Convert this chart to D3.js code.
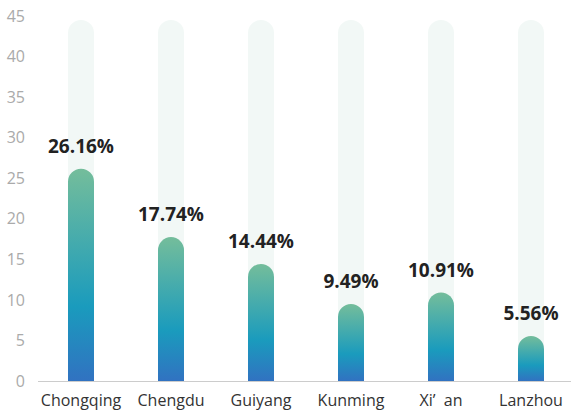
<!DOCTYPE html>
<html><head><meta charset="utf-8">
<script src="https://cdn.jsdelivr.net/npm/d3@7"></script>
<style>body{margin:0;background:#fff;}svg{display:block;}</style>
</head><body>
<svg id="c" width="571" height="415"></svg>
<script>
const categories = ["Chongqing","Chengdu","Guiyang","Kunming","Xi’  an","Lanzhou"];
const values = [26.16, 17.74, 14.44, 9.49, 10.91, 5.56];
const labels = ["26.16%","17.74%","14.44%","9.49%","10.91%","5.56%"];
const yTicks = [0,5,10,15,20,25,30,35,40,45];
const bgValue = 44.5;

(function(){
const svg = d3.select("#c");
const mLeft = 36, mRight = 576, mTop = 16, mBottom = 381;
const x = d3.scaleBand().domain(categories).range([mLeft, mRight]);
const y = d3.scaleLinear().domain([0,45]).range([mBottom, mTop]);
const bw = 26, r = 13;

const defs = svg.append("defs");
const g = defs.append("linearGradient").attr("id","grad").attr("x1",0).attr("y1",0).attr("x2",0).attr("y2",1);
g.append("stop").attr("offset","0%").attr("stop-color","#74bd9b");
g.append("stop").attr("offset","65%").attr("stop-color","#1a9bbd");
g.append("stop").attr("offset","100%").attr("stop-color","#3172c1");

function barPath(cx, yt, yb){
  const x0 = cx - bw/2, x1 = cx + bw/2;
  return `M${x0},${yb}L${x0},${yt+r}A${r},${r} 0 0 1 ${x1},${yt+r}L${x1},${yb}Z`;
}

const yAxis = d3.axisLeft(y).tickValues(yTicks).tickSize(0).tickPadding(0);
const ya = svg.append("g").attr("transform","translate(25,0)").call(yAxis);
ya.select(".domain").remove();
ya.selectAll("text").attr("font-family","'Open Sans', sans-serif").attr("font-size",16).attr("fill","#aaaaaa");

svg.append("g").selectAll("path").data(categories).join("path")
  .attr("d", c => barPath(x(c)+x.bandwidth()/2, y(bgValue), mBottom))
  .attr("fill","#f2f8f6");

const xAxis = d3.axisBottom(x).tickSize(0).tickPadding(14);
const xa = svg.append("g").attr("transform",`translate(0,${mBottom})`).call(xAxis);
xa.select(".domain").attr("stroke","#cccccc").attr("d",`M38,0.5H${mRight}`);
xa.selectAll("text").attr("font-family","'Open Sans', sans-serif").attr("font-size",16).attr("fill","#333").style("white-space","pre");

svg.append("g").selectAll("path").data(values).join("path")
  .attr("d", (v,i) => barPath(x(categories[i])+x.bandwidth()/2, y(v), mBottom))
  .attr("fill","url(#grad)");

svg.append("g").selectAll("text").data(values).join("text")
  .attr("x",(v,i)=>x(categories[i])+x.bandwidth()/2)
  .attr("y",v=>y(v)-16)
  .attr("text-anchor","middle")
  .attr("font-family","'Open Sans', sans-serif").attr("font-weight","bold").attr("font-size",19)
  .attr("fill","#222")
  .text((v,i)=>labels[i]);
})();
</script>
</body></html>
